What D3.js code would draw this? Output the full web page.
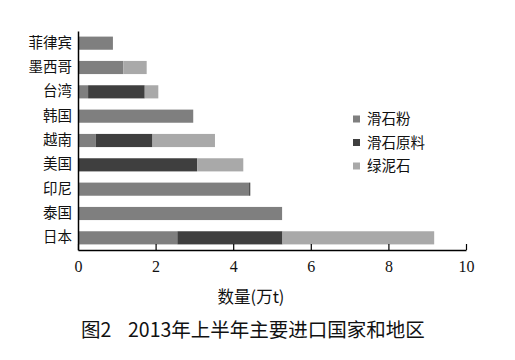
<!DOCTYPE html>
<html>
<head>
<meta charset="utf-8">
<script src="https://cdn.jsdelivr.net/npm/d3@7"></script>
<style>
  body { margin: 0; background: #fff; }
  svg { display: block; }
</style>
</head>
<body>
<svg id="chart" width="515" height="360"></svg>
<script>
// countries, top to bottom as drawn
const countries = ["菲律宾", "墨西哥", "台湾", "韩国", "越南", "美国", "印尼", "泰国", "日本"];
const seriesNames = ["滑石粉", "滑石原料", "绿泥石"];
// 万t
const talcPowder = [0.90, 1.17, 0.26, 2.97, 0.46, 0, 4.41, 5.26, 2.56];
const talcRaw    = [0,    0,    1.46, 0,    1.46, 3.07, 0.03, 0, 2.71];
const chlorite   = [0,    0.60, 0.35, 0,    1.61, 1.19, 0,    0, 3.91];
const xTicks = [0, 2, 4, 6, 8, 10];
const colors = ["#7f7f7f", "#3f3f3f", "#a9a9a9"];

const svg = d3.select("#chart");
const plotLeft = 78, plotRight = 466, plotTop = 31, plotBottom = 250;

const rows = countries.map((c, i) => ({
  name: c, "滑石粉": talcPowder[i], "滑石原料": talcRaw[i], "绿泥石": chlorite[i]
}));
const stacked = d3.stack().keys(seriesNames)(rows);

const x = d3.scaleLinear().domain([0, 10]).range([plotLeft, plotRight]);
const y = d3.scaleBand().domain(countries).range([plotTop, plotBottom]).paddingInner(0.46).paddingOuter(0.23);

svg.append("g")
  .selectAll("g")
  .data(stacked)
  .join("g")
  .attr("fill", (d, i) => colors[i])
  .selectAll("rect")
  .data(d => d)
  .join("rect")
  .attr("x", d => x(d[0]))
  .attr("width", d => Math.max(0, x(d[1]) - x(d[0])))
  .attr("y", d => y(d.data.name))
  .attr("height", y.bandwidth());

// x axis, ticks pointing up
const xAxis = svg.append("g")
  .attr("transform", `translate(0,${plotBottom})`)
  .call(d3.axisBottom(x).tickValues(xTicks).tickSize(-6).tickSizeOuter(0).tickPadding(9));
xAxis.select(".domain").attr("stroke", "#000").attr("stroke-width", 1.5);
xAxis.selectAll(".tick line").attr("stroke", "#000").attr("stroke-width", 1.2);
xAxis.selectAll(".tick text")
  .attr("font-family", "'Liberation Serif', serif")
  .attr("font-size", 16)
  .attr("fill", "#111")
  .attr("dy", "0.8em");

// y axis
const yAxis = svg.append("g")
  .attr("transform", `translate(${plotLeft},0)`)
  .call(d3.axisLeft(y).tickSize(0).tickPadding(6));
yAxis.select(".domain").attr("stroke", "#000").attr("stroke-width", 1.5);
yAxis.selectAll(".tick text")
  .attr("font-family", "'Noto Sans CJK SC', sans-serif")
  .attr("font-size", 14.5)
  .attr("fill", "#111");

// legend
const legend = svg.append("g");
seriesNames.forEach((s, i) => {
  const ly = 119 + i * 23.5;
  legend.append("rect")
    .attr("x", 353).attr("y", ly - 3.5)
    .attr("width", 7).attr("height", 7)
    .attr("fill", colors[i]);
  legend.append("text")
    .attr("x", 367).attr("y", ly)
    .attr("dy", "0.35em")
    .attr("font-family", "'Noto Sans CJK SC', sans-serif")
    .attr("font-size", 14.5)
    .attr("fill", "#111")
    .text(s);
});

// axis title
svg.append("text")
  .attr("x", 251).attr("y", 297)
  .attr("dy", "0.35em")
  .attr("text-anchor", "middle")
  .attr("font-family", "'Noto Sans CJK SC', sans-serif")
  .attr("font-size", 16.5)
  .attr("fill", "#111")
  .text("数量(万t)");

// caption
svg.append("text")
  .attr("x", 81).attr("y", 330)
  .attr("dy", "0.35em")
  .attr("font-family", "'Noto Sans CJK SC', sans-serif")
  .attr("font-size", 19.5)
  .attr("fill", "#111")
  .text("图2");
svg.append("text")
  .attr("x", 128).attr("y", 330)
  .attr("dy", "0.35em")
  .attr("font-family", "'Noto Sans CJK SC', sans-serif")
  .attr("font-size", 19.5)
  .attr("fill", "#111")
  .text("2013年上半年主要进口国家和地区");
</script>
</body>
</html>
